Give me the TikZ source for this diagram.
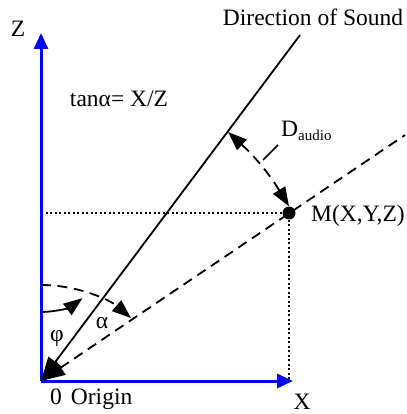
\documentclass[tikz,border=0pt]{standalone}
\usepackage{fontspec}
\setmainfont{Liberation Serif}
\usetikzlibrary{arrows.meta}
\begin{document}
\begin{tikzpicture}[x=1pt,y=-1pt,
  lbl/.style={font=\fontsize{23.5}{26}\selectfont, inner sep=0pt},
  axis/.style={draw=blue, line width=3pt, -{Triangle[length=16pt,width=14pt]}},
  sound/.style={line width=1.8pt},
  dashln/.style={line width=1.8pt, dash pattern=on 10pt off 6.5pt},
  dotln/.style={line width=2pt, dash pattern=on 2pt off 2.5pt},
  bigtip/.style={{Triangle[length=24pt,width=17pt]}-},
  midtip/.style={-{Triangle[length=19pt,width=14pt]}}
]
\useasboundingbox (0,0) rectangle (406,414);
% points
\coordinate (O) at (41,381);
\coordinate (ztip) at (41,33);
\coordinate (xtip) at (293,381);
\coordinate (stop) at (300,35);
\coordinate (dend) at (405,135);
\coordinate (zm) at (41,213);
\coordinate (xm) at (289,381);
\coordinate (S) at (228,132);
\coordinate (phi0) at (41,312);
\coordinate (al0) at (41,285);
\coordinate (al1) at (131,318);
\coordinate (ld0) at (278,145);
\coordinate (ld1) at (263,160);
% point M
\node[circle, fill=black, minimum size=13pt, inner sep=0pt] (M) at (289,213) {};
% dotted projections
\draw[dotln] (zm) -- (M);
\draw[dotln] (M) -- (xm);
% axes
\draw[axis] (O) -- (xtip);
\draw[axis] (O) -- (ztip);
% dashed line O -> M -> beyond
\draw[dashln, bigtip] (O) -- (dend);
% direction of sound
\draw[sound, bigtip] (O) -- (stop);
% angle arcs
\draw[line width=1.8pt, midtip] (phi0) arc[start angle=90, end angle=53, radius=69];
\draw[dashln, midtip] (al0) .. controls (78,285) and (110,300) .. (al1);
% D_audio
\draw[dashln, {Triangle[length=19pt,width=14pt]}-{Triangle[length=19pt,width=14pt]}]
  (S) to[bend left=8] (M.north);
\draw[line width=1.5pt] (ld0) -- (ld1);
% labels
\node[lbl] (zl) at (18,29) {Z};
\node[lbl] (xl) at (302,402) {X};
\node[lbl, anchor=west] (ol) at (50,399) {0\hspace{9pt}Origin};
\node[lbl] (tl) at (119,99) {tanα= X/Z};
\node[lbl] (dl) at (313,17) {Direction of Sound};
\node[lbl, anchor=west] (ml) at (311,216) {M(X,Y,Z)};
\node[lbl, anchor=west] (da) at (281,131) {D\raisebox{-4pt}{\fontsize{15}{17}\selectfont audio}};
\node[lbl] (phl) at (57,338) {φ};
\node[lbl] (all) at (102,323) {α};
\end{tikzpicture}
\end{document}
